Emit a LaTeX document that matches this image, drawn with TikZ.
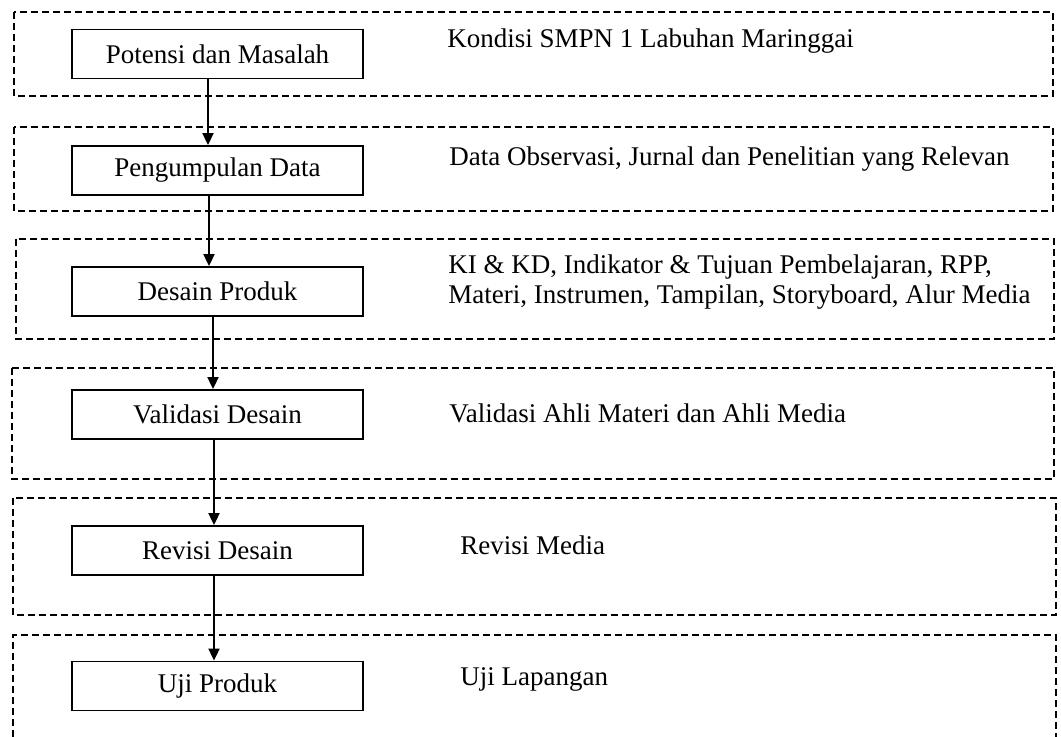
\documentclass[tikz,border=0pt]{standalone}
\usepackage{fontspec}
\setmainfont{Liberation Serif}
\usetikzlibrary{arrows.meta}
\begin{document}
\begin{tikzpicture}[x=0.5pt,y=-0.5pt,
  stagebox/.style={draw,line width=0.9pt,minimum width=145.5pt,minimum height=24.5pt,inner sep=0pt,font=\fontsize{13.5}{15}\selectfont},
  groupframe/.style={draw,line width=0.7pt,dash pattern=on 3.5pt off 2pt},
  desc/.style={anchor=base west,inner sep=0pt,align=left,font=\fontsize{13.5}{15}\selectfont},
  flow/.style={line width=0.9pt,-{Triangle[length=6pt,width=5.5pt]}}]
\useasboundingbox (0,0) rectangle (1061,737);
% dashed group frames
\draw[groupframe] (14,12) rectangle (1053,96);
\draw[groupframe] (14,127) rectangle (1053,211);
\draw[groupframe] (16,239) rectangle (1054,339);
\draw[groupframe] (12,368) rectangle (1054,479);
\draw[groupframe] (13,498) rectangle (1056,615);
\draw[groupframe] (13,737) -- (13,635) -- (1056,635) -- (1056,737);
% stage boxes
\node[stagebox] (s1) at (217.5,54) {Potensi dan Masalah};
\node[stagebox] (s2) at (217.5,170.5) {Pengumpulan Data};
\node[stagebox] (s3) at (217.5,291.5) {Desain Produk};
\node[stagebox] (s4) at (217.5,414.5) {Validasi Desain};
\node[stagebox] (s5) at (217.5,550.5) {Revisi Desain};
\node[stagebox] (s6) at (217.5,686) {Uji Produk};
% descriptions
\node[desc] (d1) at (447,48) {Kondisi SMPN 1 Labuhan Maringgai};
\node[desc] (d2) at (449,166) {Data Observasi, Jurnal dan Penelitian yang Relevan};
\node[desc] (d3) at (448,304) {KI \& KD, Indikator \& Tujuan Pembelajaran, RPP,\\Materi, Instrumen, Tampilan, Storyboard, Alur Media};
\node[desc] (d4) at (449,423) {Validasi Ahli Materi dan Ahli Media};
\node[desc] (d5) at (460,555) {Revisi Media};
\node[desc] (d6) at (460,685) {Uji Lapangan};
% connectors
\draw[flow] ([xshift=-4.75pt]s1.south) -- ([xshift=-4.75pt]s2.north);
\draw[flow] ([xshift=-4.25pt]s2.south) -- ([xshift=-4.25pt]s3.north);
\draw[flow] ([xshift=-2.25pt]s3.south) -- ([xshift=-2.25pt]s4.north);
\draw[flow] ([xshift=-1.75pt]s4.south) -- ([xshift=-1.75pt]s5.north);
\draw[flow] ([xshift=-1.75pt]s5.south) -- ([xshift=-1.75pt]s6.north);
\end{tikzpicture}
\end{document}
